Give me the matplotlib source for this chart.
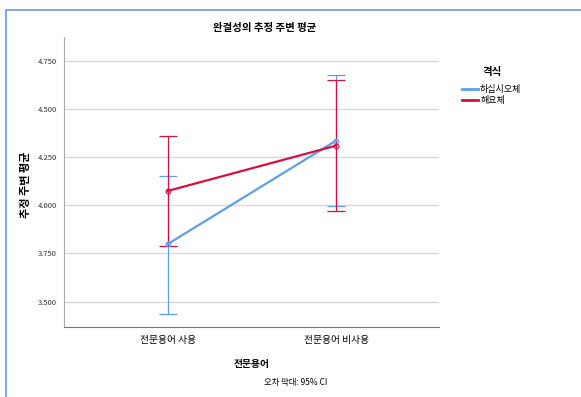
import numpy as np
import matplotlib.pyplot as plt
from matplotlib.patches import Rectangle

plt.rcParams['font.family'] = ['Noto Sans CJK KR', 'DejaVu Sans']

categories = ['전문용어 사용', '전문용어 비사용']
series_names = ['하십시오체', '해요체']
means = {'하십시오체': [3.798, 4.335], '해요체': [4.074, 4.309]}
ci_low = {'하십시오체': [3.436, 3.995], '해요체': [3.789, 3.972]}
ci_high = {'하십시오체': [4.152, 4.677], '해요체': [4.358, 4.650]}
colors = {'하십시오체': '#5CA0E8', '해요체': '#D5103F'}
yticks = [3.5, 3.75, 4.0, 4.25, 4.5, 4.75]

fig = plt.figure(figsize=(5.81, 3.97), dpi=100)
ax = fig.add_axes([64/581, 1-326.7/397, 375/581, 290/397])

x = np.arange(len(categories))
for name in series_names:
    m = np.array(means[name])
    lo = m - np.array(ci_low[name])
    hi = np.array(ci_high[name]) - m
    ax.errorbar(x, m, yerr=[lo, hi], color=colors[name], lw=0, elinewidth=0.9,
                capsize=6.5, capthick=0.9, zorder=3)
    ax.plot(x, m, color=colors[name], lw=1.6, marker='o', ms=3.5,
            mfc='none', mec=colors[name], mew=0.8, label=name, zorder=4)

ax.set_xlim(-0.615, 1.611)
ax.set_ylim(3.37, 4.874)
ax.set_xticks(x)
ax.set_xticklabels(categories, fontsize=7)
ax.set_yticks(yticks)
ax.set_yticklabels(['%.3f' % v for v in yticks], fontsize=5.5, color='#333333')
ax.tick_params(axis='both', length=0, pad=5)
ax.tick_params(axis='x', pad=6)
ax.grid(axis='y', color='#d9d9d9', lw=1)
ax.set_axisbelow(True)
for s in ['top', 'right']:
    ax.spines[s].set_visible(False)
ax.spines['left'].set_color('#aaaaaa')
ax.spines['left'].set_linewidth(0.8)
ax.spines['bottom'].set_color('#777777')
ax.spines['bottom'].set_linewidth(0.8)

fig.text(265/581, 1-28/397, '완결성의 추정 주변 평균', fontsize=7.5, fontweight='bold',
         ha='center', va='center')
fig.text(25/581, 1-185/397, '추정 주변 평균', fontsize=8, fontweight='bold',
         rotation=90, ha='center', va='center')
fig.text(252/581, 1-364/397, '전문용어', fontsize=7, fontweight='bold',
         ha='center', va='center')
fig.text(296/581, 1-382/397, '오차 막대: 95% CI', fontsize=6, ha='center', va='center')

leg = fig.legend(loc='upper left', bbox_to_anchor=(462/581, 1-67/397), frameon=False,
                 title='격식', fontsize=6.5, handlelength=1.8, handletextpad=0.2,
                 labelspacing=0.15, borderaxespad=0, borderpad=0)
plt.setp(leg.get_title(), fontsize=7.5, fontweight='bold')
leg._legend_box.sep = 6
for h in leg.legend_handles:
    h.set_marker('')
    h.set_linewidth(2)

fig.patches.append(Rectangle((6/581, -0.1), 1.2, 1 - 10/397 + 0.1, transform=fig.transFigure,
                             fill=False, ec='#6A9BE0', lw=1.2))

plt.savefig('out.png', dpi=100)
